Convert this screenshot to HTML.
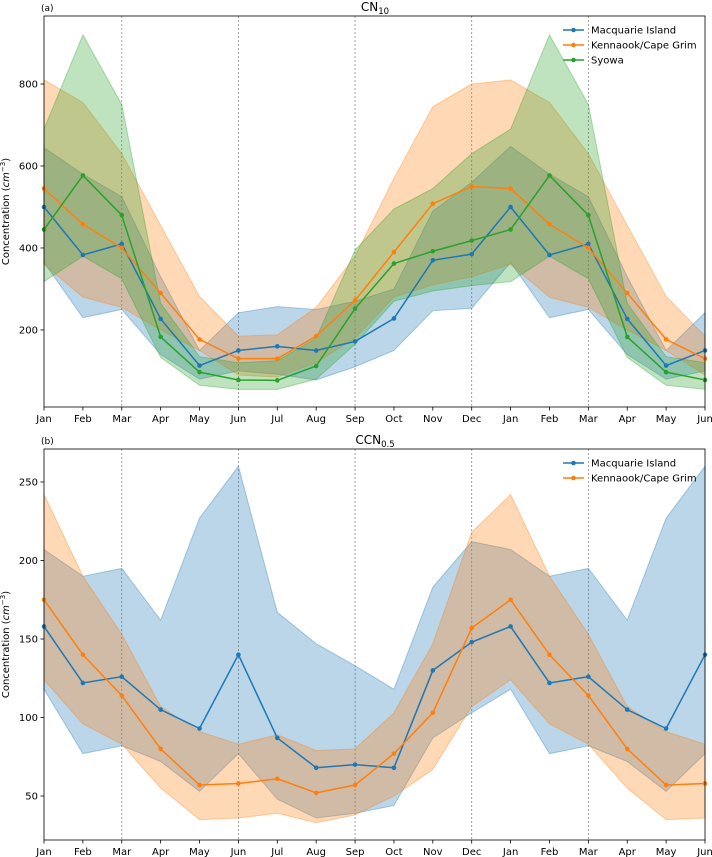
<!DOCTYPE html>
<html><head><meta charset="utf-8"><style>
body{margin:0;background:#fff;}
svg{display:block;font-family:"DejaVu Sans","Liberation Sans",sans-serif;}
</style></head><body>
<svg id="chart" width="712" height="857" viewBox="0 0 712 857" xmlns="http://www.w3.org/2000/svg"></svg>
<script>
const months = ["Jan","Feb","Mar","Apr","May","Jun","Jul","Aug","Sep","Oct","Nov","Dec","Jan","Feb","Mar","Apr","May","Jun"];
const guideIdx = [2,5,8,11,14];
// Panel (a) CN10
const aTicks = [200,400,600,800];
const aMacMean = [500,383,410,227,113,150,160,150,172,228,370,385,500,383,410,227,113,150];
const aMacHi   = [645,580,525,330,150,242,257,250,270,300,490,560,648,580,525,330,150,242];
const aMacLo   = [365,230,250,140,80,100,92,78,110,150,247,253,365,230,250,140,80,100];
const aKenMean = [545,458,400,290,177,130,130,185,272,390,508,550,545,458,400,290,177,130];
const aKenHi   = [810,755,630,455,282,185,188,255,380,570,745,800,810,755,630,455,282,185];
const aKenLo   = [360,280,255,200,150,90,85,120,180,280,310,330,360,280,255,200,150,90];
const aSyoMean = [445,577,480,183,97,78,77,112,252,362,392,418,445,577,480,183,97,78];
const aSyoHi   = [690,920,750,265,135,120,125,180,395,495,545,630,690,920,750,265,135,120];
const aSyoLo   = [318,380,325,133,65,55,55,80,165,270,295,308,318,380,325,133,65,55];
// Panel (b) CCN0.5
const bTicks = [50,100,150,200,250];
const bMacMean = [158,122,126,105,93,140,87,68,70,68,130,148,158,122,126,105,93,140];
const bMacHi   = [207,190,195,162,227,260,167,147,133,118,183,212,207,190,195,162,227,260];
const bMacLo   = [118,77,82,72,53,77,48,36,39,44,87,103,118,77,82,72,53,77];
const bKenMean = [175,140,114,80,57,58,61,52,57,77,103,157,175,140,114,80,57,58];
const bKenHi   = [242,190,153,107,91,83,89,79,80,103,147,218,242,190,153,107,91,83];
const bKenLo   = [124,96,83,55,35,36,39,33,38,50,67,107,124,96,83,55,35,36];

const NS="http://www.w3.org/2000/svg";
const svg=document.getElementById('chart');
function mk(tag,attrs,parent){const e=document.createElementNS(NS,tag);for(const k in attrs)e.setAttribute(k,attrs[k]);(parent||svg).appendChild(e);return e;}
const C={blue:"#1f77b4",orange:"#ff7f0e",green:"#2ca02c"};

function panel(cfg){
  const L=44,R=705,T=cfg.top,B=cfg.bottom;
  const x=i=>L+i*(R-L)/(months.length-1);
  const y=v=>B-(v-cfg.ymin)/(cfg.ymax-cfg.ymin)*(B-T);
  const g=mk('g',{});
  
  
  // guides
  guideIdx.forEach(i=>{const l=mk('line',{x1:x(i),x2:x(i),y1:T,y2:B,stroke:"#888","stroke-width":0.8,"stroke-dasharray":"2,2"},g);
    });
  // bands
  cfg.series.forEach(s=>{
    let d='M'+s.hi.map((v,i)=>x(i)+','+y(v)).join('L')+'L'+s.lo.map((v,i)=>[i,v]).reverse().map(p=>x(p[0])+','+y(p[1])).join('L')+'Z';
    const p=mk('path',{d:d,fill:s.c,"fill-opacity":0.3,stroke:s.c,"stroke-opacity":0.35,"stroke-width":1},g);
    
  });
  cfg.series.forEach(s=>{
    const pl=mk('polyline',{points:s.mean.map((v,i)=>x(i)+','+y(v)).join(' '),fill:"none",stroke:s.c,"stroke-width":1.5},g);
    
    s.mean.forEach((v,i)=>{const c=mk('circle',{cx:x(i),cy:y(v),r:2.3,fill:s.c},g);
      });
  });
  const fr=mk('rect',{x:L,y:T,width:R-L,height:B-T,fill:"none",stroke:"#000","stroke-width":0.8},g);
  
  months.forEach((m,i)=>{mk('line',{x1:x(i),x2:x(i),y1:B,y2:B+3.5,stroke:"#000","stroke-width":0.8},g);
    const t=mk('text',{x:x(i),y:B+15,"font-size":10,"text-anchor":"middle",fill:"#000"},g);t.textContent=m;
    });
  cfg.ticks.forEach(v=>{mk('line',{x1:L-3.5,x2:L,y1:y(v),y2:y(v),stroke:"#000","stroke-width":0.8},g);
    const t=mk('text',{x:L-6,y:y(v)+3.5,"font-size":10,"text-anchor":"end",fill:"#000"},g);t.textContent=v;
    });
  const yl=mk('text',{x:0,y:0,"font-size":10,"text-anchor":"middle",transform:`translate(9,${(T+B)/2}) rotate(-90)`},g);
  yl.innerHTML='Concentration (<tspan font-style="italic">cm</tspan><tspan dy="-4" font-size="7">−3</tspan><tspan dy="4">)</tspan>';
  
  const pl=mk('text',{x:41,y:T-5,"font-size":9},g);pl.textContent=cfg.label;
  
  const tt=mk('text',{x:375,y:T-5,"font-size":12,"text-anchor":"middle"},g);
  tt.innerHTML=cfg.title[0]+'<tspan dy="3" font-size="8.5">'+cfg.title[1]+'</tspan>';
  
  // legend
  cfg.series.forEach((s,k)=>{const ly=T+14+k*15;
    const lg=mk('g',{},g);
    mk('line',{x1:563,x2:584,y1:ly,y2:ly,stroke:s.c,"stroke-width":1.5},lg);
    mk('circle',{cx:573.5,cy:ly,r:2.3,fill:s.c},lg);
    const t=mk('text',{x:591,y:ly+3.5,"font-size":10},lg);t.textContent=s.name;});
}
panel({name:'panel-a-cn10',top:16,bottom:407,ymin:12,ymax:966,ticks:aTicks,label:'(a)',title:['CN','10'],
 series:[{key:'macquarie',name:'Macquarie Island',c:C.blue,mean:aMacMean,hi:aMacHi,lo:aMacLo},
         {key:'kennaook',name:'Kennaook/Cape Grim',c:C.orange,mean:aKenMean,hi:aKenHi,lo:aKenLo},
         {key:'syowa',name:'Syowa',c:C.green,mean:aSyoMean,hi:aSyoHi,lo:aSyoLo}]});
panel({name:'panel-b-ccn05',top:449,bottom:840,ymin:22,ymax:271,ticks:bTicks,label:'(b)',title:['CCN','0.5'],
 series:[{key:'macquarie',name:'Macquarie Island',c:C.blue,mean:bMacMean,hi:bMacHi,lo:bMacLo},
         {key:'kennaook',name:'Kennaook/Cape Grim',c:C.orange,mean:bKenMean,hi:bKenHi,lo:bKenLo}]});
</script>
</body></html>
